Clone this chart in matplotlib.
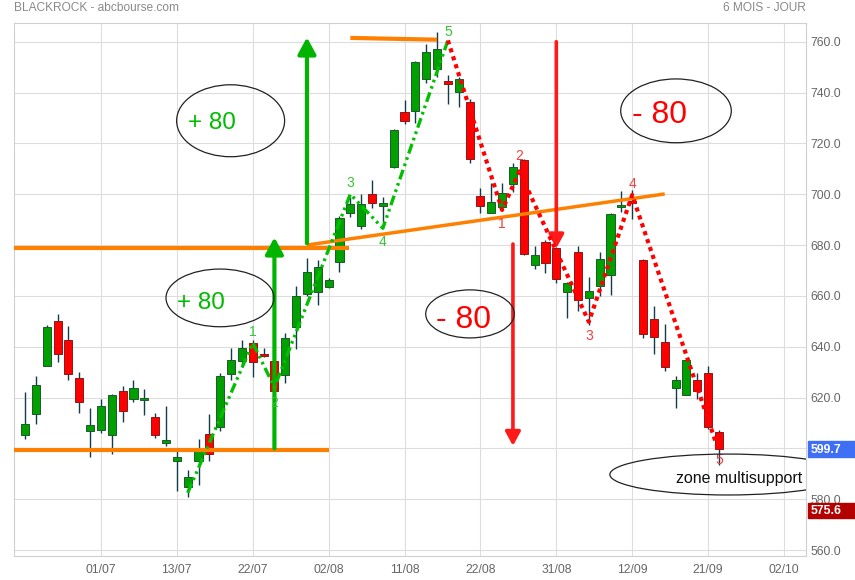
import numpy as np
import matplotlib
matplotlib.use("Agg")
import matplotlib.pyplot as plt
from matplotlib.patches import Ellipse, Rectangle
from matplotlib.transforms import blended_transform_factory

plt.rcParams['font.family'] = ['Liberation Sans', 'DejaVu Sans']

# daily candles (6 months view, one value per trading day)
opens = [605.1, 613.4, 632.3, 650.0, 642.5, 627.5, 606.7, 607.1, 605.1, 622.5,
         619.3, 619.0, 612.2, 602.0, 594.9, 584.9, 594.9, 605.5, 608.3, 629.1,
         634.2, 641.3, 636.6, 634.2, 628.7, 647.6, 660.8, 661.5, 663.6, 673.2,
         692.5, 687.4, 700.0, 695.2, 710.8, 732.3, 732.6, 745.2, 749.1, 744.5,
         740.1, 736.2, 699.2, 692.5, 694.8, 703.9, 713.3, 672.0, 681.1, 678.7,
         661.4, 677.1, 659.0, 664.0, 668.1, 694.8, 697.3, 674.1, 650.8, 641.7,
         623.8, 620.9, 626.8, 629.5, 606.5]
highs = [622.2, 628.5, 648.5, 652.9, 648.1, 630.0, 615.9, 619.4, 621.3, 624.5,
         626.9, 623.2, 613.8, 616.6, 600.0, 591.5, 603.7, 613.5, 629.5, 639.3,
         642.5, 642.6, 639.3, 636.0, 645.3, 663.9, 675.0, 674.1, 667.0, 691.5,
         699.0, 700.1, 705.6, 698.8, 725.5, 737.1, 752.4, 759.1, 763.9, 746.9,
         746.0, 737.3, 702.5, 704.3, 704.5, 712.2, 714.0, 679.6, 682.0, 679.3,
         665.5, 679.6, 667.4, 677.4, 692.7, 701.3, 701.6, 674.6, 656.0, 648.9,
         628.5, 635.0, 629.5, 632.3, 607.2]
lows = [603.6, 609.7, 632.3, 634.1, 626.8, 614.0, 596.7, 606.1, 597.9, 610.2,
        618.3, 613.2, 603.9, 601.0, 583.3, 581.0, 585.6, 595.0, 606.9, 626.8,
        631.9, 627.9, 636.0, 621.0, 625.8, 639.2, 660.0, 656.3, 663.0, 669.3,
        691.1, 686.4, 694.7, 686.6, 710.5, 727.6, 728.1, 743.9, 746.2, 735.4,
        734.4, 712.4, 692.5, 692.5, 693.8, 701.0, 676.0, 670.7, 668.9, 665.2,
        651.2, 654.1, 648.5, 660.1, 660.3, 693.1, 690.2, 643.5, 637.0, 630.5,
        616.0, 620.9, 619.5, 607.7, 593.3]
closes = [609.5, 624.8, 647.6, 637.0, 629.1, 618.1, 609.1, 616.5, 620.9, 614.6,
          623.6, 619.8, 605.1, 603.2, 596.6, 588.6, 600.2, 597.6, 628.3, 634.6,
          639.3, 633.8, 636.2, 622.7, 643.3, 659.8, 669.3, 671.2, 666.2, 690.5,
          696.0, 696.0, 696.4, 696.4, 725.1, 728.7, 751.9, 755.8, 757.1, 743.4,
          745.2, 713.7, 695.2, 696.9, 700.3, 710.7, 676.3, 676.1, 672.8, 666.5,
          664.9, 658.2, 661.8, 674.4, 692.1, 695.7, 696.5, 644.9, 643.7, 632.1,
          626.8, 634.6, 622.4, 608.3, 599.7]
date_labels = ['01/07', '13/07', '22/07', '02/08', '11/08', '22/08',
               '31/08', '12/09', '21/09', '02/10']
price_ticks = list(range(560, 761, 20))
last_price = 599.7
low_price = 575.6

# hand drawn analysis (day index, price)
green_wave_x = [15, 21, 23, 30, 33, 39]
green_wave_y = [582.5, 641.5, 624.0, 700.0, 686.6, 760.5]
red_wave_x = [39, 44, 45.6, 52, 56, 64]
red_wave_y = [760.5, 693.8, 709.0, 649.8, 699.7, 598.7]
wave_labels = ['1', '2', '3', '4', '5']

o = np.array(opens)
h = np.array(highs)
l = np.array(lows)
c = np.array(closes)
x = np.arange(len(o))
up = c >= o

fig = plt.figure(figsize=(8.55, 5.8), dpi=100)
ax = fig.add_axes([14 / 855, 24 / 580, 792 / 855, 533.3 / 580])

# candles
ax.vlines(x, l, h, color='#123c4e', lw=1.0, zorder=2)
bottom = np.minimum(o, c)
height = np.maximum(np.abs(c - o), 0.8)
ax.bar(x[up], height[up], bottom=bottom[up], width=0.75,
       color='#00a000', edgecolor='#1d5a2a', lw=0.7, zorder=3)
ax.bar(x[~up], height[~up], bottom=bottom[~up], width=0.75,
       color='#ff0000', edgecolor='#8a1a1a', lw=0.7, zorder=3)

ax.set_xlim(-1.02, 72.03)
ax.set_ylim(557.64, 767.48)

ax.set_xticks(np.arange(7, 71, 7))
ax.set_xticklabels(date_labels)
ax.yaxis.tick_right()
ax.set_yticks(price_ticks)
# the 600.0 label sits under the last-price box
ax.set_yticklabels(['' if abs(v - last_price) < 5 else f'{v:.1f}' for v in price_ticks])
ax.tick_params(axis='both', length=0, labelsize=8.7, colors='#666666')
ax.tick_params(axis='x', pad=6)
ax.tick_params(axis='y', pad=3)
ax.grid(True, color='#dddddd', lw=0.8, zorder=0)
ax.set_axisbelow(True)
for s in ax.spines.values():
    s.set_color('#d0d0d0')
    s.set_linewidth(0.8)

# orange support / resistance lines
orange = '#ff8000'
ax.plot([-1.02, 29.9], [679, 679], color=orange, lw=3, zorder=5, solid_capstyle='butt')
ax.plot([-1.02, 28], [599.3, 599.3], color=orange, lw=3, zorder=5, solid_capstyle='butt')
ax.plot([30, 38], [761.5, 760.8], color=orange, lw=3, zorder=5, solid_capstyle='butt')
ax.plot([26, 59], [680, 700.1], color=orange, lw=2.5, zorder=5, solid_capstyle='butt')

# arrows
def arrow(xpos, y0, y1, color, lw, scale):
    ax.annotate('', xy=(xpos, y1), xytext=(xpos, y0),
                arrowprops=dict(arrowstyle='-|>,head_length=0.55,head_width=0.3',
                                color=color, lw=lw, mutation_scale=scale,
                                shrinkA=0, shrinkB=0), zorder=6)

arrow(23, 600, 683, '#00b400', 3, 18)
arrow(26, 680.7, 761.7, '#00b400', 3, 18)
arrow(45, 680.4, 601, '#ff1a1a', 2.6, 15)
arrow(49, 760, 678.7, '#ff1a1a', 2.6, 15)

# Elliott waves
ax.plot(green_wave_x, green_wave_y, color='#00c000', lw=2.4, zorder=7,
        linestyle=(0, (3, 1.2, 0.8, 1.2, 0.8, 1.2)))
ax.plot(red_wave_x, red_wave_y, color='#ff0000', lw=3, zorder=7,
        linestyle=(0, (1, 1)))
g_off = [8, -11, 8, -10, 6]
r_off = [-10, 11, -10, 8, -6]
for lab, px, py, off in zip(wave_labels, green_wave_x[1:], green_wave_y[1:], g_off):
    ax.annotate(lab, (px, py), xytext=(0, off), textcoords='offset points',
                ha='center', va='center', fontsize=10, color='#33c633', zorder=8)
for lab, px, py, off in zip(wave_labels, red_wave_x[1:], red_wave_y[1:], r_off):
    ax.annotate(lab, (px, py), xytext=(0, off), textcoords='offset points',
                ha='center', va='center', fontsize=10, color='#f04040', zorder=8)

# ellipses with comments
def bubble(cx, cy, w, hgt, tx, ty, txt, color, size):
    ax.add_patch(Ellipse((cx, cy), w, hgt, fill=False, ec='#222222', lw=0.9, zorder=8))
    ax.text(tx, ty, txt, color=color, fontsize=size, ha='center',
            va='center_baseline', zorder=9)

bubble(18.96, 728.9, 9.96, 28.3, 17.22, 728.9, '+ 80', '#00bb00', 17.5)
bubble(17.98, 659.2, 9.96, 22.7, 16.18, 658.0, '+ 80', '#00bb00', 17.5)
bubble(60.04, 732.8, 10.2, 25.1, 58.49, 732.5, '- 80', '#ff0000', 23)
bubble(41.04, 652.9, 8.17, 18.9, 40.47, 651.8, '- 80', '#ff0000', 23)
bubble(64.84, 589.7, 21.8, 16.1, 65.87, 588.8, 'zone multisupport', '#111111', 11.5)

# price boxes on the right axis
tr = blended_transform_factory(fig.transFigure, ax.transData)
for val, col in [(last_price, '#3f6ff4'), (low_price, '#b30000')]:
    fig.add_artist(Rectangle((808.3 / 855, val - 3.0), 46.7 / 855, 6.0,
                             transform=tr, color=col, zorder=10))
    fig.text(811 / 855, val - 0.4, f'{val:.1f}', transform=tr, color='white',
             fontsize=8.8, fontweight='bold', va='center', zorder=11)

fig.text(14 / 855, 1 - 8.3 / 580, 'BLACKROCK - abcbourse.com', color='#8a8a8a',
         fontsize=8.6, va='center')
fig.text(805.7 / 855, 1 - 8.3 / 580, '6 MOIS - JOUR', color='#8a8a8a',
         fontsize=8.6, va='center', ha='right')

fig.savefig('out.png', dpi=100)
